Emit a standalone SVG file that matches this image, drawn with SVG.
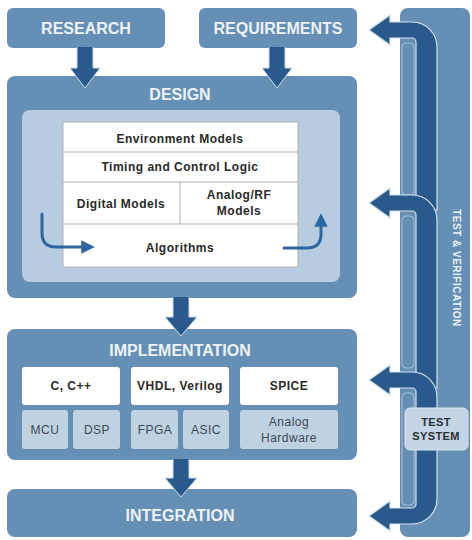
<svg xmlns="http://www.w3.org/2000/svg" width="472" height="540" viewBox="0 0 472 540">
<defs>
<style>
.box{fill:#658fb4}
.title{font-family:"Liberation Sans",Arial,sans-serif;font-weight:bold;font-size:16px;fill:#edf2f7;text-anchor:middle}
.cell{font-family:"Liberation Sans",Arial,sans-serif;font-weight:bold;font-size:12px;fill:#2a2a2a;text-anchor:middle;letter-spacing:0.5px}
.sub{font-family:"Liberation Sans",Arial,sans-serif;font-size:12px;fill:#3e4854;text-anchor:middle;letter-spacing:0.5px}
.white{fill:#ffffff}
.lite{fill:#bfd2e2}
.grid{stroke:#b0b0b0;stroke-width:1;fill:none}
.darr{fill:#2a5a8c;stroke:#c9dae8;stroke-width:1}
.bigarr{fill:#2a5a8c;stroke:#d2e1ed;stroke-width:1.2}
.chan{fill:none;stroke:#a6c1d7;stroke-width:1}
.curve{fill:none;stroke:#2e67a0;stroke-width:3;stroke-linecap:round}
</style>
<marker id="ah" viewBox="0 0 10 10" refX="5" refY="5" markerWidth="4.5" markerHeight="4.5" orient="auto">
<path d="M0 0 L10 5 L0 10 Z" fill="#2e67a0"/>
</marker>
</defs>
<rect width="472" height="540" fill="#ffffff"/>

<g id="test-verification">
<rect x="400" y="8" width="70" height="529" rx="8" class="box"/>
<text x="0" y="0" transform="translate(453,268) rotate(90)" style="font-family:'Liberation Sans',Arial,sans-serif;font-weight:bold;font-size:10px;fill:#edf2f7;text-anchor:middle;letter-spacing:0.5px">TEST &amp; VERIFICATION</text>
</g>

<g id="research">
<rect x="7" y="8" width="158" height="40" rx="6" class="box"/>
<text x="86" y="34" class="title">RESEARCH</text>
</g>

<g id="requirements">
<rect x="199" y="8" width="158" height="40" rx="6" class="box"/>
<text x="278" y="34" class="title">REQUIREMENTS</text>
</g>

<g id="design">
<rect x="7" y="76" width="350" height="222" rx="8" class="box"/>
<text x="180" y="100" class="title">DESIGN</text>
<rect x="22" y="110" width="318" height="172" rx="8" fill="#b7cce0"/>
<rect x="63" y="122" width="235" height="145" class="white"/>
<path d="M63 122 H298 V267 H63 Z M63 152 H298 M63 182 H298 M63 224 H298 M180 182 V224" class="grid"/>
<text x="180" y="143" class="cell">Environment Models</text>
<text x="180" y="171" class="cell">Timing and Control Logic</text>
<text x="121" y="208" class="cell">Digital Models</text>
<text x="239" y="199" class="cell">Analog/RF</text>
<text x="239" y="215" class="cell">Models</text>
<text x="180" y="252" class="cell">Algorithms</text>
<path d="M42 214 V233 Q42 247 56 247 H88" class="curve" marker-end="url(#ah)"/>
<path d="M284 248 H307 Q321 248 321 234 V220" class="curve" marker-end="url(#ah)"/>
</g>

<g id="implementation">
<rect x="7" y="329" width="350" height="131" rx="8" class="box"/>
<text x="180" y="356" class="title">IMPLEMENTATION</text>
<rect x="22" y="367" width="98" height="38" rx="3" class="white"/>
<rect x="131" y="367" width="98" height="38" rx="3" class="white"/>
<rect x="240" y="367" width="98" height="38" rx="3" class="white"/>
<text x="71" y="390" class="cell">C, C++</text>
<text x="180" y="390" class="cell">VHDL, Verilog</text>
<text x="289" y="390" class="cell">SPICE</text>
<rect x="22" y="410" width="46" height="39" rx="3" class="lite"/>
<rect x="73" y="410" width="47" height="39" rx="3" class="lite"/>
<rect x="131" y="410" width="47" height="39" rx="3" class="lite"/>
<rect x="183" y="410" width="46" height="39" rx="3" class="lite"/>
<rect x="240" y="410" width="98" height="39" rx="3" class="lite"/>
<text x="45" y="434" class="sub">MCU</text>
<text x="97" y="434" class="sub">DSP</text>
<text x="155" y="434" class="sub">FPGA</text>
<text x="206" y="434" class="sub">ASIC</text>
<text x="289" y="426" class="sub">Analog</text>
<text x="289" y="442" class="sub">Hardware</text>
</g>

<g id="integration">
<rect x="7" y="489" width="350" height="48" rx="8" class="box"/>
<text x="180" y="521" class="title">INTEGRATION</text>
</g>

<g id="connectors">
<path d="M77 47 V68 H70 L85 88 L100 68 H93 V47" class="darr"/>
<path d="M269 47 V68 H262 L277 88 L292 68 H285 V47" class="darr"/>
<path d="M173 297 V317 H165 L181 336 L197 317 H189 V297" class="darr"/>
<path d="M173 459 V478 H165 L181 497 L197 478 H189 V459" class="darr"/>

<rect x="402" y="43" width="12" height="152" rx="4" class="chan"/>
<rect x="402" y="216" width="12" height="152" rx="4" class="chan"/>
<rect x="402" y="393" width="12" height="112" rx="4" class="chan"/>

<path d="M369 30 L390 15 L390 22 L412 22 A25 25 0 0 1 437 47 L437 210 L416 210 L416 42 A4 4 0 0 0 412 38 L390 38 L390 45 Z" class="bigarr"/>
<path d="M369 203 L390 188 L390 195 L412 195 A25 25 0 0 1 437 220 L437 388 L416 388 L416 215 A4 4 0 0 0 412 211 L390 211 L390 218 Z" class="bigarr"/>
<path d="M369 380 L390 365 L390 372 L412 372 A25 25 0 0 1 437 397 L437 425 L416 425 L416 392 A4 4 0 0 0 412 388 L390 388 L390 395 Z" class="bigarr"/>
<path d="M369 516 L390 501 L390 508 L412 508 A4 4 0 0 0 416 504 L416 440 L437 440 L437 499 A25 25 0 0 1 412 524 L390 524 L390 531 Z" class="bigarr"/>
</g>

<g id="test-system">
<rect x="405" y="408" width="63" height="42" rx="5" fill="#c3d5e4" stroke="#dbe7f0" stroke-width="1"/>
<text x="436" y="426" style="font-family:'Liberation Sans',Arial,sans-serif;font-weight:bold;font-size:11px;fill:#2a2f36;text-anchor:middle;letter-spacing:0.4px">TEST</text>
<text x="436" y="440" style="font-family:'Liberation Sans',Arial,sans-serif;font-weight:bold;font-size:11px;fill:#2a2f36;text-anchor:middle;letter-spacing:0.4px">SYSTEM</text>
</g>
</svg>
